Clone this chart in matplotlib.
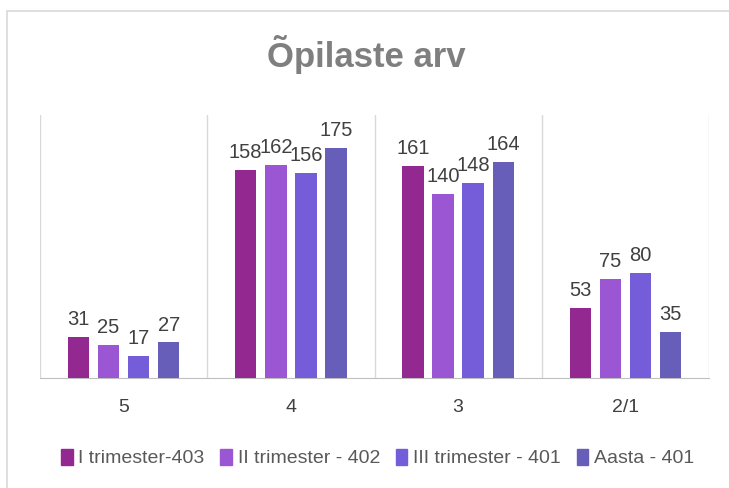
import matplotlib.pyplot as plt
import matplotlib.patches as mpatches
import numpy as np

categories = ['5', '4', '3', '2/1']
series_names = ['I trimester-403', 'II trimester - 402', 'III trimester - 401', 'Aasta - 401']
values = [
    [31, 158, 161, 53],
    [25, 162, 140, 75],
    [17, 156, 148, 80],
    [27, 175, 164, 35],
]
colors = ['#922890', '#9B57D3', '#755DD9', '#665EB8']

plt.rcParams['font.family'] = ['Liberation Sans', 'DejaVu Sans']

fig = plt.figure(figsize=(7.29, 4.88), dpi=100)
fig.patches.append(mpatches.Rectangle((7 / 729, -0.1), 1.2, 1 - 11 / 488 + 0.1,
                                      transform=fig.transFigure, fill=False,
                                      edgecolor='#d9d9d9', linewidth=1.2))

ax = fig.add_axes([40 / 729, 1 - 378 / 488, 669 / 729, 263 / 488])
x = np.arange(len(categories))
pitch = 0.18
width = 0.128
for i, (name, vals) in enumerate(zip(series_names, values)):
    pos = x + (i - 1.5) * pitch
    bars = ax.bar(pos, vals, width, color=colors[i], label=name, zorder=3)
    for b, v in zip(bars, vals):
        ax.text(b.get_x() + b.get_width() / 2, v + 6, str(v), ha='center', va='bottom',
                fontsize=14.5, color='#404040')

ax.set_xlim(-0.5, len(categories) - 0.5)
ax.set_ylim(0, 200)
ax.set_yticks([])
ax.set_xticks(x)
ax.set_xticklabels(categories, fontsize=14, color='#404040')
ax.tick_params(axis='x', length=0, pad=15)
for b in np.arange(-0.5, len(categories), 1):
    ax.axvline(b, color='#d9d9d9', linewidth=1, zorder=1)
for s in ['top', 'left', 'right']:
    ax.spines[s].set_visible(False)
ax.spines['bottom'].set_color('#bfbfbf')

fig.text(0.503, 1 - 55 / 488, 'Õpilaste arv', ha='center', va='center',
         fontsize=25, fontweight='bold', color='#7f7f7f')

handles = [mpatches.Patch(color=c) for c in colors]
fig.legend(handles, series_names, loc='center', bbox_to_anchor=(0.518, 1 - 458 / 488),
           ncol=4, frameon=False, fontsize=14, handlelength=0.6, handleheight=0.9,
           handletextpad=0.3, columnspacing=0.8, labelcolor='#595959')

fig.savefig('out.png', dpi=100)
